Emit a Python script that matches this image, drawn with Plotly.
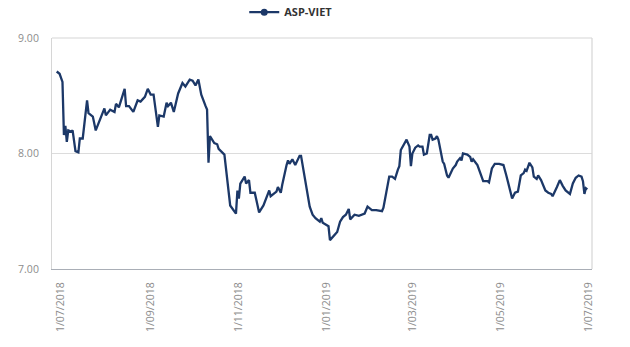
import plotly.graph_objects as go

# ASP-VIET daily index level, 28/06/2018 - 30/06/2019
dates = [
    "2018-06-28", "2018-06-30", "2018-07-02", "2018-07-03", "2018-07-04", "2018-07-05",
    "2018-07-06", "2018-07-08", "2018-07-09", "2018-07-11", "2018-07-13", "2018-07-14",
    "2018-07-16", "2018-07-19", "2018-07-20", "2018-07-23", "2018-07-25", "2018-07-28",
    "2018-07-31", "2018-08-01", "2018-08-04", "2018-08-07", "2018-08-08", "2018-08-10",
    "2018-08-14", "2018-08-15", "2018-08-17", "2018-08-20", "2018-08-23", "2018-08-25",
    "2018-08-28", "2018-08-30", "2018-09-01", "2018-09-03", "2018-09-06", "2018-09-07",
    "2018-09-10", "2018-09-12", "2018-09-13", "2018-09-15", "2018-09-17", "2018-09-20",
    "2018-09-21", "2018-09-23", "2018-09-25", "2018-09-28", "2018-09-30", "2018-10-02",
    "2018-10-04", "2018-10-06", "2018-10-09", "2018-10-10", "2018-10-11", "2018-10-12",
    "2018-10-15", "2018-10-17", "2018-10-18", "2018-10-22", "2018-10-26", "2018-10-30",
    "2018-10-31", "2018-11-01", "2018-11-02", "2018-11-05", "2018-11-06", "2018-11-08",
    "2018-11-09", "2018-11-12", "2018-11-15", "2018-11-18", "2018-11-22", "2018-11-23",
    "2018-11-27", "2018-11-28", "2018-11-30", "2018-12-01", "2018-12-04", "2018-12-05",
    "2018-12-06", "2018-12-08", "2018-12-10", "2018-12-13", "2018-12-14", "2018-12-16",
    "2018-12-20", "2018-12-22", "2018-12-24", "2018-12-27", "2018-12-28", "2018-12-29",
    "2019-01-02", "2019-01-03", "2019-01-05", "2019-01-07", "2019-01-08", "2019-01-10",
    "2019-01-12", "2019-01-14", "2019-01-16", "2019-01-17", "2019-01-20", "2019-01-23",
    "2019-01-27", "2019-01-29", "2019-02-01", "2019-02-04", "2019-02-08", "2019-02-09",
    "2019-02-13", "2019-02-15", "2019-02-17", "2019-02-19", "2019-02-20", "2019-02-21",
    "2019-02-23", "2019-02-25", "2019-02-26", "2019-02-27", "2019-02-28", "2019-03-01",
    "2019-03-03", "2019-03-05", "2019-03-06", "2019-03-08", "2019-03-09", "2019-03-11",
    "2019-03-13", "2019-03-14", "2019-03-15", "2019-03-17", "2019-03-18", "2019-03-19",
    "2019-03-22", "2019-03-23", "2019-03-25", "2019-03-26", "2019-03-29", "2019-03-31",
    "2019-04-01", "2019-04-03", "2019-04-04", "2019-04-05", "2019-04-08", "2019-04-10",
    "2019-04-11", "2019-04-12", "2019-04-15", "2019-04-17", "2019-04-19", "2019-04-22",
    "2019-04-23", "2019-04-25", "2019-04-27", "2019-04-30", "2019-05-03", "2019-05-05",
    "2019-05-07", "2019-05-09", "2019-05-11", "2019-05-13", "2019-05-15", "2019-05-17",
    "2019-05-18", "2019-05-19", "2019-05-21", "2019-05-23", "2019-05-24", "2019-05-26",
    "2019-05-27", "2019-05-29", "2019-06-01", "2019-06-03", "2019-06-05", "2019-06-06",
    "2019-06-09", "2019-06-11", "2019-06-13", "2019-06-15", "2019-06-18", "2019-06-20",
    "2019-06-22", "2019-06-24", "2019-06-26", "2019-06-27", "2019-06-28", "2019-06-29",
    "2019-06-30",
]

values = [
    8.71, 8.69, 8.62, 8.16, 8.24, 8.10,
    8.20, 8.19, 8.20, 8.02, 8.01, 8.13,
    8.13, 8.46, 8.35, 8.32, 8.20, 8.29,
    8.39, 8.33, 8.38, 8.36, 8.43, 8.40,
    8.56, 8.41, 8.41, 8.36, 8.46, 8.45,
    8.49, 8.56, 8.51, 8.51, 8.23, 8.33,
    8.32, 8.44, 8.41, 8.44, 8.36, 8.52,
    8.55, 8.61, 8.58, 8.64, 8.63, 8.59,
    8.64, 8.51, 8.41, 8.38, 7.92, 8.15,
    8.09, 8.08, 8.04, 7.99, 7.55, 7.48,
    7.68, 7.61, 7.74, 7.80, 7.74, 7.77,
    7.66, 7.66, 7.49, 7.55, 7.68, 7.63,
    7.67, 7.71, 7.66, 7.73, 7.90, 7.94,
    7.91, 7.95, 7.90, 7.98, 7.98, 7.83,
    7.54, 7.47, 7.44, 7.41, 7.44, 7.40,
    7.37, 7.25, 7.28, 7.31, 7.32, 7.41,
    7.45, 7.47, 7.52, 7.43, 7.47, 7.46,
    7.48, 7.54, 7.51, 7.51, 7.50, 7.53,
    7.80, 7.80, 7.78, 7.86, 7.89, 8.03,
    8.07, 8.12, 8.09, 8.06, 7.89, 8.00,
    8.05, 8.07, 8.06, 8.06, 7.99, 8.00,
    8.16, 8.16, 8.12, 8.13, 8.15, 8.12,
    7.93, 7.91, 7.81, 7.79, 7.87, 7.90,
    7.93, 7.96, 7.94, 8.00, 7.99, 7.97,
    7.93, 7.95, 7.90, 7.83, 7.76, 7.76,
    7.75, 7.87, 7.91, 7.91, 7.90, 7.81,
    7.70, 7.61, 7.66, 7.67, 7.81, 7.83,
    7.86, 7.85, 7.92, 7.88, 7.80, 7.78,
    7.81, 7.77, 7.68, 7.66, 7.65, 7.63,
    7.71, 7.77, 7.72, 7.68, 7.65, 7.74,
    7.79, 7.81, 7.80, 7.76, 7.65, 7.70,
    7.69,
]

series_name = "ASP-VIET"
y_ticks = [7.0, 8.0, 9.0]

LINE_COLOR = "#1c3868"
TICK_FONT = dict(family="Open Sans, Arial, sans-serif", size=10.5, color="#8c8c8c")

fig = go.Figure()

fig.add_trace(go.Scatter(
    x=dates, y=values, mode="lines", name=series_name,
    line=dict(color=LINE_COLOR, width=2.3),
    showlegend=False,
))

# legend entry: line with a round marker
fig.add_trace(go.Scatter(
    x=[None], y=[None], mode="lines+markers", name=series_name,
    line=dict(color=LINE_COLOR, width=2.3),
    marker=dict(color=LINE_COLOR, size=7),
))

fig.update_layout(
    width=630, height=347,
    margin=dict(l=52, r=38, t=38, b=78, autoexpand=False),
    paper_bgcolor="white", plot_bgcolor="white",
    showlegend=True,
    legend=dict(
        orientation="h", x=0.356, xanchor="left",
        yref="container", y=0.965, yanchor="middle",
        font=dict(family="Open Sans, Arial, sans-serif", size=11, color="#333333", weight="bold"),
        bgcolor="rgba(0,0,0,0)",
    ),
    xaxis=dict(
        type="date",
        range=["2018-06-24 18:00", "2019-07-03 06:00"],
        tick0="2018-07-01", dtick="M2",
        tickformat="%-d/%m/%Y", tickangle=-90,
        tickfont=TICK_FONT,
        showgrid=False, zeroline=False,
        showline=True, linecolor="#a9aeb6", linewidth=1.3,
        mirror=False,
        ticks="outside", ticklen=8, tickcolor="rgba(0,0,0,0)",
    ),
    yaxis=dict(
        range=[7, 9], tickvals=y_ticks, tickformat=".2f",
        tickfont=TICK_FONT,
        showgrid=True, gridcolor="#dcdcdc", gridwidth=1,
        zeroline=False,
        showline=True, linecolor="#d6d6d6", linewidth=1,
        ticks="outside", ticklen=10, tickcolor="rgba(0,0,0,0)",
    ),
    shapes=[
        dict(type="line", xref="paper", yref="paper", x0=0, x1=1, y0=1, y1=1,
             line=dict(color="#d6d6d6", width=1.2)),
        dict(type="line", xref="paper", yref="paper", x0=1, x1=1, y0=0, y1=1,
             line=dict(color="#d6d6d6", width=1.2)),
    ],
)

fig.write_html("out.html")
